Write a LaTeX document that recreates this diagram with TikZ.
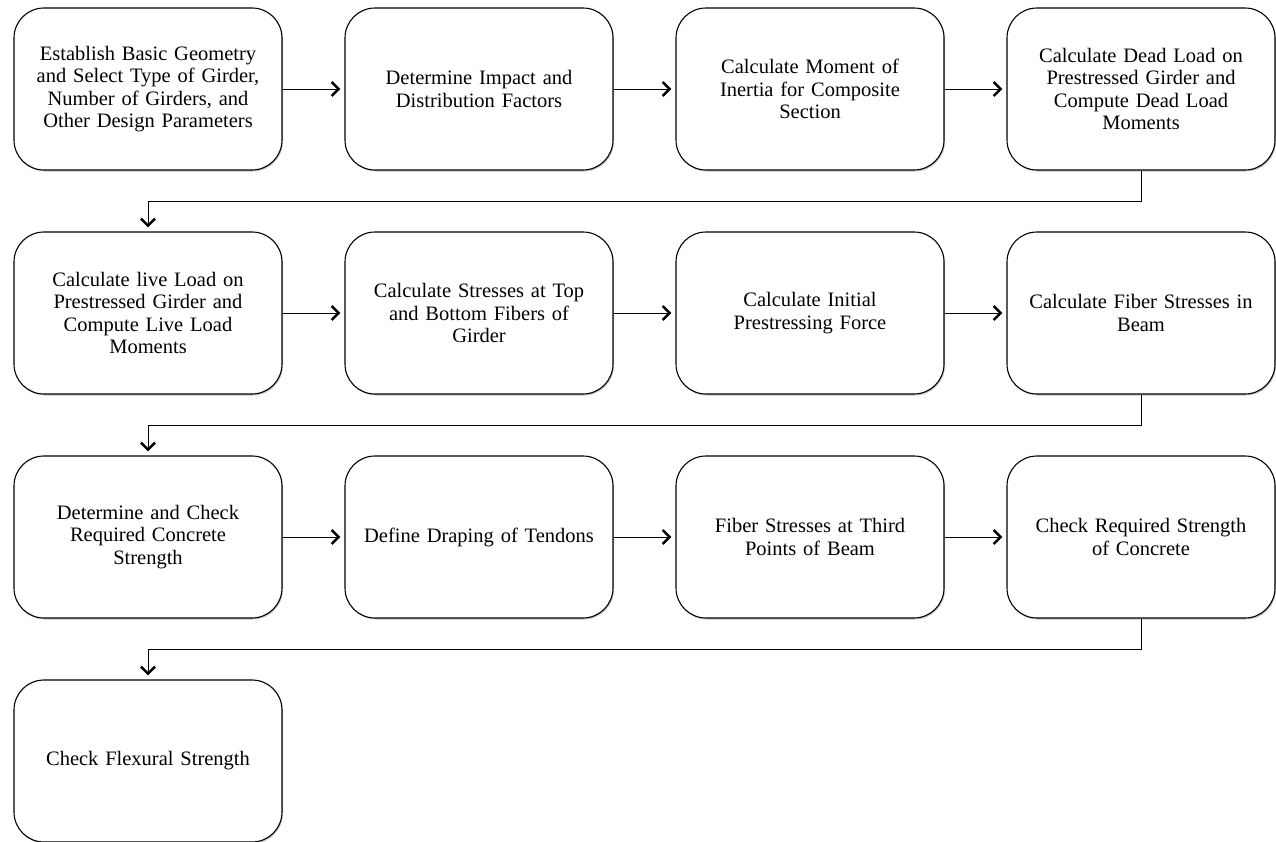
\documentclass[tikz,border=0pt]{standalone}
\usepackage{fontspec}
\setmainfont{Liberation Serif}
\usetikzlibrary{arrows.meta,shadows}
\begin{document}
\begin{tikzpicture}[x=1pt,y=1pt,
stepbox/.style={draw,line width=1.1pt,rounded corners=30pt,fill=white,
  minimum width=268pt,minimum height=162pt,text width=256pt,align=center,
  font=\fontsize{20.5}{22.5}\selectfont,
  drop shadow={shadow xshift=1pt,shadow yshift=-1.5pt,opacity=0.45}},
link/.style={line width=1pt,shorten >=4pt,
  -{Straight Barb[length=7pt,width=14pt,line width=2.6pt]}}]
\useasboundingbox (0,0) rectangle (1276,-841);
\node[stepbox] (geom) at (148,-89) {Establish Basic Geometry\\and Select Type of Girder,\\Number of Girders, and\\Other Design Parameters};
\node[stepbox] (impact) at (479,-89) {Determine Impact and\\Distribution Factors};
\node[stepbox] (inertia) at (810,-89) {Calculate Moment of\\Inertia for Composite\\Section};
\node[stepbox] (dead) at (1141,-89) {Calculate Dead Load on\\Prestressed Girder and\\Compute Dead Load\\Moments};
\node[stepbox] (live) at (148,-313) {Calculate live Load on\\Prestressed Girder and\\Compute Live Load\\Moments};
\node[stepbox] (stress) at (479,-313) {Calculate Stresses at Top\\and Bottom Fibers of\\Girder};
\node[stepbox] (force) at (810,-313) {Calculate Initial\\Prestressing Force};
\node[stepbox] (fiber) at (1141,-313) {Calculate Fiber Stresses in\\Beam};
\node[stepbox] (conc) at (148,-537) {Determine and Check\\Required Concrete\\Strength};
\node[stepbox] (drape) at (479,-537) {Define Draping of Tendons};
\node[stepbox] (third) at (810,-537) {Fiber Stresses at Third\\Points of Beam};
\node[stepbox] (req) at (1141,-537) {Check Required Strength\\of Concrete};
\node[stepbox] (flex) at (148,-761) {Check Flexural Strength};
\draw[link] (geom) -- (impact);
\draw[link] (impact) -- (inertia);
\draw[link] (inertia) -- (dead);
\draw[link] (dead.south) -- ++(0,-31) -| (live.north);
\draw[link] (live) -- (stress);
\draw[link] (stress) -- (force);
\draw[link] (force) -- (fiber);
\draw[link] (fiber.south) -- ++(0,-31) -| (conc.north);
\draw[link] (conc) -- (drape);
\draw[link] (drape) -- (third);
\draw[link] (third) -- (req);
\draw[link] (req.south) -- ++(0,-31) -| (flex.north);
\end{tikzpicture}
\end{document}
